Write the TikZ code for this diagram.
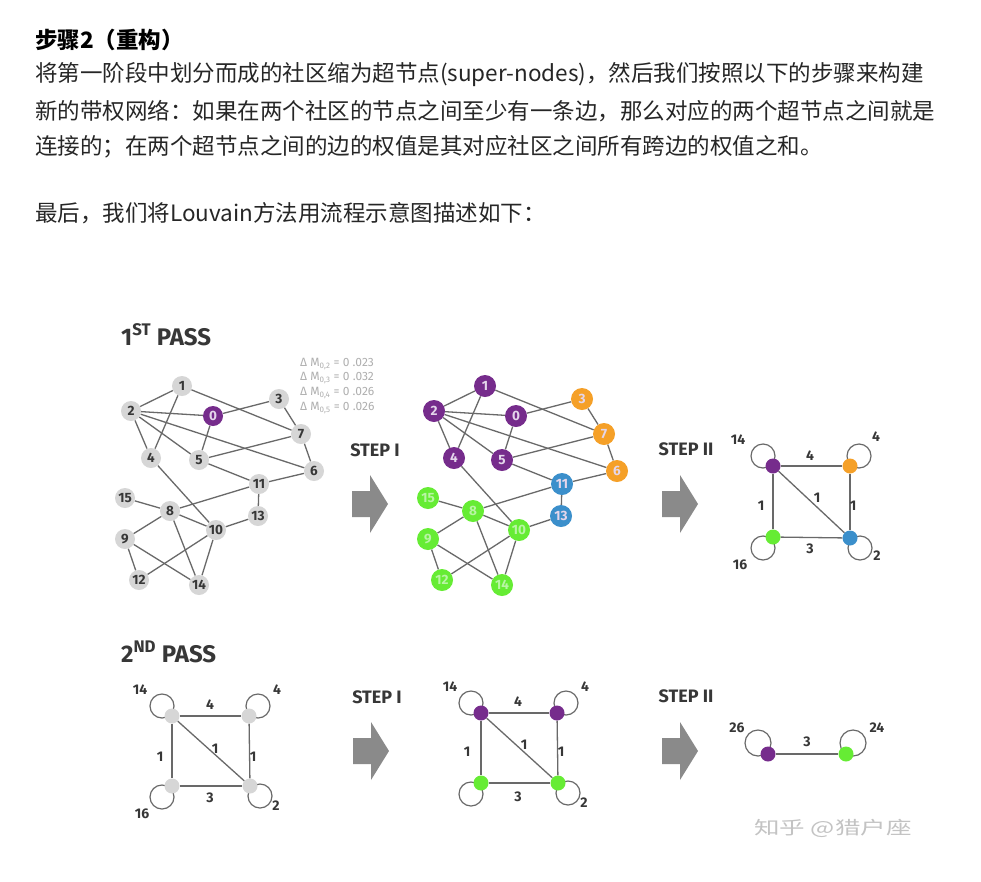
\documentclass[tikz,border=0pt]{standalone}
\usepackage{fontspec}
\setmainfont{Fira Sans}
\newfontfamily\cjk{Noto Sans CJK SC}
\newfontfamily\din{Fira Sans}
\usetikzlibrary{backgrounds}
\pgfdeclarelayer{bottom}
\pgfsetlayers{bottom,background,main}
\definecolor{purp}{RGB}{118,44,140}
\definecolor{orng}{RGB}{245,160,40}
\definecolor{blu}{RGB}{59,143,203}
\definecolor{grn}{RGB}{102,236,52}
\definecolor{ngray}{RGB}{214,214,214}
\definecolor{egray}{RGB}{105,105,105}
\definecolor{tdark}{RGB}{55,55,55}
\definecolor{agray}{RGB}{138,138,138}
\definecolor{dmgray}{RGB}{175,175,175}
\definecolor{wmgray}{RGB}{195,195,195}
\definecolor{para}{RGB}{38,38,38}
\definecolor{plab}{RGB}{228,214,235}
\definecolor{glab}{RGB}{185,245,165}
\tikzset{
 conn/.style={draw=egray, line width=1.3pt},
 loopline/.style={draw=egray, line width=1.2pt},
 gnode/.style={circle, fill=ngray, minimum size=20pt, inner sep=0pt, text=tdark, font=\din\bfseries\fontsize{13.5}{13.5}\selectfont},
 cnode/.style={circle, minimum size=22pt, inner sep=0pt, font=\din\bfseries\fontsize{13.5}{13.5}\selectfont},
 snode/.style={circle, minimum size=15pt, inner sep=0pt},
 lab/.style={text=tdark, font=\din\bfseries\fontsize{14}{14}\selectfont, inner sep=0pt},
 steplab/.style={text=tdark, font=\din\bfseries\fontsize{18}{18}\selectfont, inner sep=0pt},
 passlab/.style={text=tdark, font=\din\bfseries\fontsize{24}{24}\selectfont, inner sep=0pt, anchor=base west},
 paraline/.style={text=para, font=\cjk\fontsize{22.5}{22.5}\selectfont, inner sep=0pt, anchor=west},
 dm/.style={text=dmgray, font=\din\fontsize{12}{12}\selectfont, inner sep=0pt, anchor=west},
 bigarrow/.pic={\fill[agray] (0,-13) -- (18,-13) -- (18,-29) -- (36,0) -- (18,29) -- (18,13) -- (0,13) -- cycle;},
}
\begin{document}
\begin{tikzpicture}[x=1pt,y=-1pt]
\begin{pgfonlayer}{bottom}
\fill[white] (0,0) rectangle (981,881);
\end{pgfonlayer}
\useasboundingbox (0,0) rectangle (981,881);

% ---- text ----
\node[paraline, text=black, font=\cjk\bfseries\fontsize{22.5}{22.5}\selectfont] (title) at (35,40) {步骤2（重构）};
\node[paraline] (l1) at (35,75) {将第一阶段中划分而成的社区缩为超节点(super-nodes)，然后我们按照以下的步骤来构建};
\node[paraline] (l2) at (35,111) {新的带权网络：如果在两个社区的节点之间至少有一条边，那么对应的两个超节点之间就是};
\node[paraline] (l3) at (35,147) {连接的；在两个超节点之间的边的权值是其对应社区之间所有跨边的权值之和。};
\node[paraline] (l4) at (35,213) {最后，我们将Louvain方法用流程示意图描述如下：};

% ---- headings ----
\node[passlab] (pass1) at (121,345) {1\textsuperscript{ST} PASS};
\node[passlab] (pass2) at (121,662) {2\textsuperscript{ND} PASS};
\node[steplab] (s1a) at (375,450) {STEP I};
\node[steplab] (s1b) at (686,449) {STEP II};
\node[steplab] (s2a) at (377,697) {STEP I};
\node[steplab] (s2b) at (686,696) {STEP II};

\node[dm] (dm1) at (300,364) {Δ M\textsubscript{0,2} = 0 .023};
\node[dm] (dm2) at (300,378) {Δ M\textsubscript{0,3} = 0 .032};
\node[dm] (dm3) at (300,393) {Δ M\textsubscript{0,4} = 0 .026};
\node[dm] (dm4) at (300,408) {Δ M\textsubscript{0,5} = 0 .026};

% ---- arrows ----
\pic at (352,504) {bigarrow};
\pic at (662,504) {bigarrow};
\pic at (353,751) {bigarrow};
\pic at (662,751) {bigarrow};

% ---- first pass graph ----
\foreach \n/\x/\y in {1/182/386, 2/131/411, 3/279/399, 7/301/434, 4/151/458, 5/199/460, 6/314/471, 11/259/484, 15/125/498, 8/170/511, 13/258/516, 10/216/530, 9/125/539, 12/139/580, 14/199/585}
  \node[gnode] (a\n) at (\x,\y) {\n};
\node[gnode, fill=purp, text=plab] (a0) at (213,416) {0};

% ---- coloured graph ----
\foreach \n/\x/\y/\f/\t in {0/213/416/purp/plab, 1/182/386/purp/plab, 2/131/411/purp/plab, 4/151/458/purp/plab, 5/199/460/purp/plab, 3/279/399/orng/plab, 7/301/434/orng/plab, 6/314/471/orng/plab, 11/259/484/blu/plab, 13/258/516/blu/plab, 15/125/498/grn/glab, 8/170/511/grn/glab, 10/216/530/grn/glab, 9/125/539/grn/glab, 12/139/580/grn/glab, 14/199/585/grn/glab}
  \node[cnode, fill=\f, text=\t] (b\n) at (\x+303,\y) {\n};

% ---- step II (row 1) ----
\node[snode, fill=purp] (q1) at (773,466) {};
\node[snode, fill=orng] (q2) at (850,466) {};
\node[snode, fill=grn] (q3) at (773,537) {};
\node[snode, fill=blu] (q4) at (850,538) {};
\node[lab] (q1l) at (738,440) {14};
\node[lab] (q2l) at (876,437) {4};
\node[lab] (q3l) at (740,565) {16};
\node[lab] (q4l) at (877,556) {2};
\node[lab] (qe12) at (810,456) {4};
\node[lab] (qe13) at (761,506) {1};
\node[lab] (qe14) at (817,498) {1};
\node[lab] (qe24) at (853,506) {1};
\node[lab] (qe34) at (810,549) {3};

% ---- second pass, input ----
\node[snode, fill=ngray] (r1) at (172,716) {};
\node[snode, fill=ngray] (r2) at (249,716) {};
\node[snode, fill=ngray] (r3) at (172,786) {};
\node[snode, fill=ngray] (r4) at (250,786) {};
\node[lab] (r1l) at (140,690) {14};
\node[lab] (r2l) at (277,690) {4};
\node[lab] (r3l) at (142,814) {16};
\node[lab] (r4l) at (276,806) {2};
\node[lab] (re12) at (210,705) {4};
\node[lab] (re13) at (160,757) {1};
\node[lab] (re14) at (215,749) {1};
\node[lab] (re24) at (253,757) {1};
\node[lab] (re34) at (210,798) {3};

% ---- second pass, step I ----
\node[snode, fill=purp] (t1) at (481,713) {};
\node[snode, fill=purp] (t2) at (557,713) {};
\node[snode, fill=grn] (t3) at (481,783) {};
\node[snode, fill=grn] (t4) at (558,783) {};
\node[lab] (t1l) at (450,687) {14};
\node[lab] (t2l) at (585,687) {4};
\node[lab] (t4l) at (584,803) {2};
\node[lab] (te12) at (518,702) {4};
\node[lab] (te13) at (467,752) {1};
\node[lab] (te14) at (524,745) {1};
\node[lab] (te24) at (561,752) {1};
\node[lab] (te34) at (518,797) {3};

% ---- second pass, step II ----
\node[snode, fill=purp] (u1) at (768,754) {};
\node[snode, fill=grn] (u2) at (846,754) {};
\node[lab] (u1l) at (737,728) {26};
\node[lab] (u2l) at (877,728) {24};
\node[lab] (ue) at (807,742) {3};

% ---- watermark ----
\node[inner sep=0pt, text=wmgray, font=\cjk\fontsize{18}{18}\selectfont] (wm) at (833,828) {\scalebox{1.42}[1]{知乎 @猎户座}};

% ---- connectors ----
\begin{scope}[on background layer]
\foreach \u/\v in {1/2,1/4,1/7,2/0,2/4,2/5,2/6,0/3,0/5,3/7,7/5,7/6,5/11,6/11,11/13,11/8,4/10,15/8,8/9,8/10,8/14,10/13,10/12,10/14,9/12,9/14}
  {\draw[conn] (a\u) -- (a\v); \draw[conn] (b\u) -- (b\v);}
\foreach \p in {q,r,t}
  {\draw[conn] (\p1) -- (\p2); \draw[conn] (\p1) -- (\p3); \draw[conn] (\p1) -- (\p4);
   \draw[conn] (\p2) -- (\p4); \draw[conn] (\p3) -- (\p4);
   \draw[loopline] (\p1) ++(-10,-10) circle[radius=12];
   \draw[loopline] (\p2) ++(9,-10) circle[radius=12];
   \draw[loopline] (\p3) ++(-10,11) circle[radius=12];
   \draw[loopline] (\p4) ++(10,10) circle[radius=12];}
\draw[conn] (u1) -- (u2);
\draw[loopline] (u1) ++(-10,-11) circle[radius=13];
\draw[loopline] (u2) ++(7,-11) circle[radius=13];
\end{scope}
\end{tikzpicture}
\end{document}
